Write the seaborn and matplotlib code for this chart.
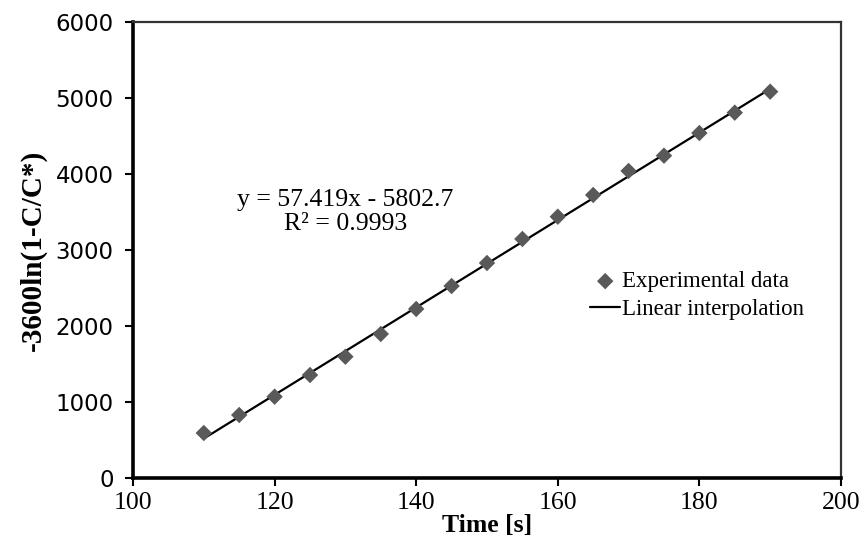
"""Linear fit of -3600 ln(1-C/C*) against time."""

import matplotlib

matplotlib.use("Agg")

import matplotlib.pyplot as plt  # noqa: E402
import numpy as np  # noqa: E402
import pandas as pd  # noqa: E402
import seaborn as sns  # noqa: E402

# Values
time_s = [110, 115, 120, 125, 130, 135, 140, 145, 150, 155, 160, 165, 170, 175, 180, 185, 190]
log_conc = [592, 829, 1070, 1355, 1596, 1895, 2224, 2526, 2829, 3145, 3438, 3724, 4040, 4241, 4539, 4807, 5083]
fit_label = "y = 57.419x - 5802.7\nR\u00b2 = 0.9993"

df = pd.DataFrame({"time": time_s, "value": log_conc})

sns.set_theme(style="white")
serif = ["Liberation Serif", "DejaVu Serif"]
plt.rcParams["font.family"] = serif
plt.rcParams.update({"text.color": "black", "axes.labelcolor": "black",
                     "xtick.color": "black", "ytick.color": "black"})

fig = plt.figure(figsize=(8.62, 5.51), dpi=100)
ax = fig.add_axes([0.1543, 0.1325, 0.8213, 0.8276])

# Fitted line over the data range
slope, intercept = np.polyfit(df["time"], df["value"], 1)
x_line = np.array([df["time"].min(), df["time"].max()])
sns.lineplot(x=x_line, y=slope * x_line + intercept, color="black", linewidth=1.6,
             label="Linear interpolation", ax=ax, zorder=3)
sns.scatterplot(data=df, x="time", y="value", marker="D", s=70, color="#595959",
                edgecolor="none", label="Experimental data", ax=ax, zorder=4)

ax.set_xlim(100, 200)
ax.set_ylim(0, 6000)
ax.set_xticks(range(100, 201, 20))
ax.set_yticks(range(0, 6001, 1000))
ax.set_xlabel("Time [s]", fontsize=18.5, fontweight="bold", labelpad=0)
ax.set_ylabel("-3600ln(1-C/C*)", fontsize=21, fontweight="bold", labelpad=6)

for lab in ax.get_xticklabels():
    lab.set_fontfamily(serif)
    lab.set_fontsize(18.5)
for lab in ax.get_yticklabels():
    lab.set_fontfamily(["DejaVu Sans"])
    lab.set_fontsize(16.5)

ax.tick_params(axis="both", direction="out", length=6, width=1.5,
               bottom=True, left=True)
ax.tick_params(axis="x", pad=4)
ax.tick_params(axis="y", pad=8)
for side in ["left", "bottom"]:
    ax.spines[side].set_linewidth(2.6)
for side in ["top", "right"]:
    ax.spines[side].set_linewidth(1.6)
    ax.spines[side].set_color("#333333")
ax.spines["left"].set_color("black")
ax.spines["bottom"].set_color("black")

ax.text(0.30, 0.583, fit_label, transform=ax.transAxes, ha="center", va="center",
        fontsize=18.5, linespacing=1.1)

handles, labels = ax.get_legend_handles_labels()
order = [labels.index("Experimental data"), labels.index("Linear interpolation")]
ax.legend([handles[i] for i in order], [labels[i] for i in order], loc="center left",
          bbox_to_anchor=(0.633, 0.40), frameon=False, fontsize=16.5, handlelength=1.3,
          handletextpad=0.1, labelspacing=0.3, borderaxespad=0)

fig.savefig("out.png", dpi=100)
